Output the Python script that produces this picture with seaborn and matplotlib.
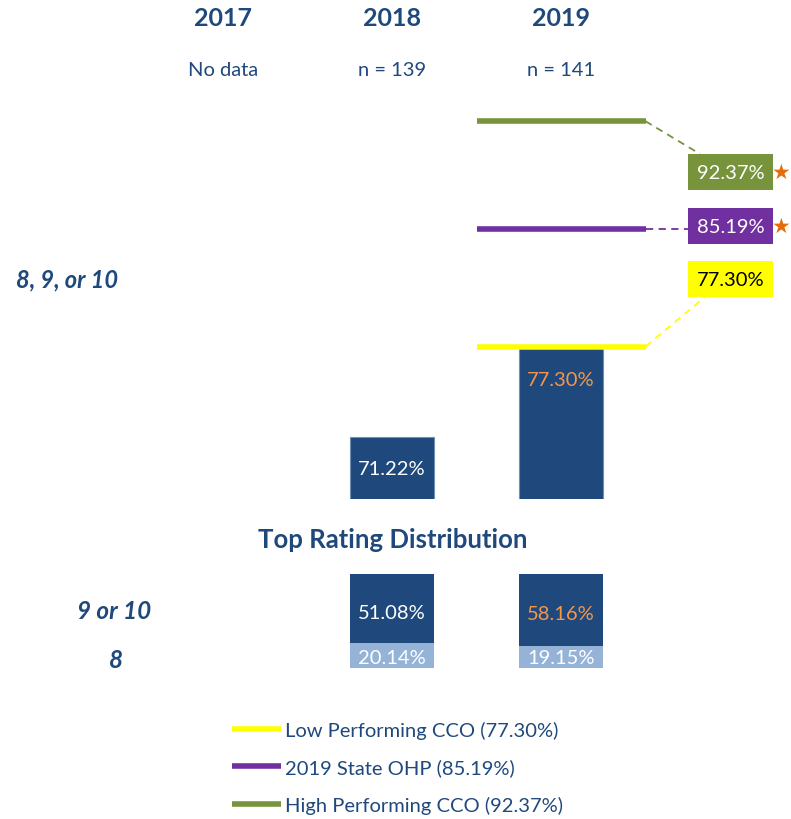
import seaborn as sns
import pandas as pd
import matplotlib
matplotlib.use("Agg")
import matplotlib.pyplot as plt
from matplotlib.patches import Rectangle

years = ["2017", "2018", "2019"]
n_labels = ["No data", "n = 139", "n = 141"]
bar_years = ["2018", "2019"]
top3 = [71.22, 77.30]
top_9_10 = [51.08, 58.16]
top_8 = [20.14, 19.15]
bench_names = ["Low Performing CCO", "2019 State OHP", "High Performing CCO"]
bench_vals = [77.30, 85.19, 92.37]
bench_colors = ["#FFFF00", "#7030A0", "#77933C"]
bench_text = ["black", "white", "white"]
bench_star = [False, True, True]

navy = "#1F497D"
light = "#95B3D7"
orange = "#F79646"

sns.set_theme(style="white")
plt.rcParams["font.family"] = ["Lato", "DejaVu Sans"]

W, H = 791, 820
fig = plt.figure(figsize=(W / 100, H / 100), dpi=100)


def fx(px):
    return px / W


def fy(py):
    return 1 - py / H


# pixel -> data helpers for main axes
X0, XS = 223, 169
Y0, YS, BASE = 500, 14.95, 67.1
xlim = (-X0 / XS, (W - X0) / XS)


def dx(px):
    return (px - X0) / XS


def dy(py):
    return BASE + (Y0 - py) / YS


ax = fig.add_axes([0, fy(500), 1, 500 / H])
df = pd.DataFrame({"year": bar_years, "pct": top3})
sns.barplot(data=df, x="year", y="pct", order=years, color=navy, width=0.5,
            saturation=1, edgecolor="#6F8FB5", linewidth=0.8, ax=ax)
ax.set_xlim(*xlim)
ax.set_ylim(BASE, dy(0))
ax.axis("off")

# bar labels
for yr, v in zip(bar_years, top3):
    xi = years.index(yr)
    if yr == "2019":
        ax.text(xi, v - 33 / YS, f"{v:.2f}%", color=orange, ha="center", va="center", fontsize=14.5)
    else:
        ax.text(xi, (BASE + v) / 2, f"{v:.2f}%", color="white", ha="center", va="center", fontsize=14.5)

# benchmark lines and labels
box_y = [280, 227, 173]
line_handles = []
for name, v, c, tc, star, by in zip(bench_names, bench_vals, bench_colors, bench_text, bench_star, box_y):
    h, = ax.plot([1.5, 2.5], [v, v], color=c, lw=4, solid_capstyle="butt",
                 clip_on=False, label=f"{name} ({v:.2f}%)")
    line_handles.append(h)
    yc = dy(by)
    yb_top = dy(by - 18)
    yb_bot = dy(by + 18)
    if v < yb_bot:
        end = (dx(705), yb_bot)
    elif v > yb_top:
        end = (dx(700), yb_top)
    else:
        end = (dx(688), v)
    ax.plot([2.5, end[0]], [v, end[1]], color=c, lw=1.3, ls=(0, (4, 3)), clip_on=False)
    ax.add_patch(Rectangle((dx(688), yb_bot), dx(773) - dx(688), yb_top - yb_bot,
                           facecolor=c, edgecolor="none", clip_on=False))
    ax.text(dx(730.5), yc, f"{v:.2f}%", color=tc, ha="center", va="center", fontsize=14.5)
    if star:
        ax.text(dx(781.5), yc, "\u2605", color="#E46C0A", ha="center", va="center",
                fontsize=15, family="DejaVu Sans")

# headers
for i, (yr, nl) in enumerate(zip(years, n_labels)):
    fig.text(fx(X0 + XS * i), fy(18), yr, color=navy, ha="center", va="center",
             fontsize=18, fontweight="bold")
    fig.text(fx(X0 + XS * i), fy(71), nl, color=navy, ha="center", va="center", fontsize=14.5)

fig.text(fx(67), fy(280), "8, 9, or 10", color=navy, ha="center", va="center",
         fontsize=17, fontweight="bold", style="italic")
fig.text(fx(393), fy(540), "Top Rating Distribution", color=navy, ha="center", va="center",
         fontsize=18.5, fontweight="bold")
fig.text(fx(114), fy(612), "9 or 10", color=navy, ha="center", va="center",
         fontsize=17.5, fontweight="bold", style="italic")
fig.text(fx(116), fy(660), "8", color=navy, ha="center", va="center",
         fontsize=17.5, fontweight="bold", style="italic")

# distribution stacked bars
ax2 = fig.add_axes([0, fy(669), 1, 94 / H])
ddf = pd.DataFrame({"year": bar_years, "hi": top_9_10, "mid": top_8})
ddf["total"] = ddf["hi"] + ddf["mid"]
sns.barplot(data=ddf, x="year", y="total", order=years, color=navy, width=0.5,
            saturation=1, linewidth=0, ax=ax2)
sns.barplot(data=ddf, x="year", y="mid", order=years, color=light, width=0.5,
            saturation=1, linewidth=0, ax=ax2)
YLO, YHI = 11.8, 43.1
ax2.set_xlim(*xlim)
ax2.set_ylim(YLO, YHI)
ax2.axis("off")
for yr, hi, mid in zip(bar_years, top_9_10, top_8):
    xi = years.index(yr)
    ax2.text(xi, (mid + YHI) / 2 - 1.2, f"{hi:.2f}%", color=orange if yr == "2019" else "white",
             ha="center", va="center", fontsize=14.5)
    ax2.text(xi, YLO + 3.4, f"{mid:.2f}%", color="white", ha="center", va="center", fontsize=14.5)

fig.legend(handles=line_handles, loc="upper left", bbox_to_anchor=(fx(232), fy(722)),
           frameon=False, fontsize=14.5, handlelength=2.45, handletextpad=0.2,
           labelspacing=0.97, labelcolor=navy, borderaxespad=0, borderpad=0)

fig.savefig("out.png", dpi=100)
